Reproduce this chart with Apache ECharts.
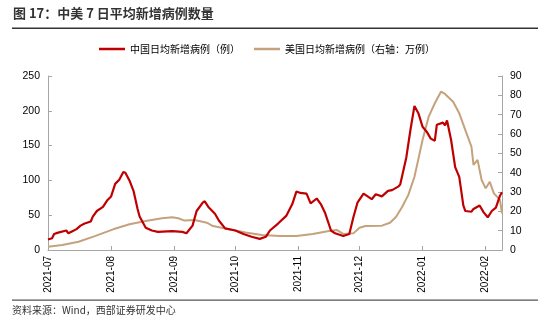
<!DOCTYPE html>
<html>
<head>
<meta charset="utf-8">
<script src="https://cdn.jsdelivr.net/npm/echarts@6/dist/echarts.min.js"></script>
<style>
html,body{margin:0;padding:0;background:#fff;}
#chart{width:550px;height:332px;}
</style>
</head>
<body>
<div id="chart"></div>
<script>
var titleText = '图 17：中美 7 日平均新增病例数量';
var sourceText = '资料来源：Wind，西部证券研发中心';
var seriesNames = ['中国日均新增病例（例）', '美国日均新增病例（右轴：万例）'];

var chinaDates = ['2021-07-01','2021-07-03','2021-07-04','2021-07-06','2021-07-10','2021-07-11','2021-07-13','2021-07-15','2021-07-17','2021-07-19','2021-07-22','2021-07-23','2021-07-25','2021-07-28','2021-07-30','2021-08-01','2021-08-03','2021-08-05','2021-08-07','2021-08-08','2021-08-10','2021-08-12','2021-08-14','2021-08-15','2021-08-18','2021-08-21','2021-08-24','2021-08-31','2021-09-05','2021-09-07','2021-09-10','2021-09-12','2021-09-15','2021-09-16','2021-09-18','2021-09-21','2021-09-23','2021-09-26','2021-10-01','2021-10-05','2021-10-09','2021-10-13','2021-10-16','2021-10-18','2021-10-22','2021-10-26','2021-10-29','2021-10-31','2021-11-02','2021-11-05','2021-11-07','2021-11-10','2021-11-12','2021-11-14','2021-11-17','2021-11-19','2021-11-23','2021-11-26','2021-11-28','2021-11-30','2021-12-03','2021-12-05','2021-12-07','2021-12-09','2021-12-12','2021-12-15','2021-12-17','2021-12-20','2021-12-21','2021-12-24','2021-12-26','2021-12-28','2021-12-30','2022-01-01','2022-01-03','2022-01-05','2022-01-07','2022-01-08','2022-01-11','2022-01-12','2022-01-13','2022-01-15','2022-01-17','2022-01-19','2022-01-21','2022-01-22','2022-01-25','2022-01-26','2022-01-29','2022-01-31','2022-02-02','2022-02-04','2022-02-06','2022-02-08','2022-02-09'];
var chinaValues = [15,17,23,25,28,24,27,30,35,38,41,48,56,62,71,77,95,101,112,111,100,85,59,48,32,28,26,27,26,24,35,56,68,70,61,52,42,31,28,23,19,16,19,28,38,49,66,84,82,81,67,74,66,54,28,24,20,23,47,68,81,77,73,80,77,85,86,91,94,133,172,207,196,177,170,160,157,180,183,179,186,158,119,105,64,56,55,59,64,54,47,56,61,78,83];

var usDates = ['2021-07-01','2021-07-08','2021-07-16','2021-07-24','2021-08-02','2021-08-10','2021-08-18','2021-08-26','2021-08-31','2021-09-03','2021-09-06','2021-09-11','2021-09-17','2021-09-20','2021-09-28','2021-10-06','2021-10-14','2021-10-23','2021-10-31','2021-11-08','2021-11-16','2021-11-20','2021-11-23','2021-11-28','2021-12-01','2021-12-04','2021-12-12','2021-12-16','2021-12-19','2021-12-22','2021-12-25','2021-12-28','2021-12-30','2022-01-01','2022-01-04','2022-01-07','2022-01-10','2022-01-12','2022-01-16','2022-01-19','2022-01-22','2022-01-25','2022-01-26','2022-01-28','2022-01-30','2022-02-01','2022-02-03','2022-02-05','2022-02-08','2022-02-09'];
var usValues = [1.7,2.6,4.3,7.2,10.7,13.3,15,16.4,16.9,16.4,15.2,15.5,14.1,12.4,10.7,9,7.8,7.2,7.2,8.3,9.8,10.3,8.3,8.6,11.5,12.4,12.6,14.1,17.2,22.4,28.5,37.9,47.4,57,69,75.9,81.9,80.7,76.7,70.7,62,53.4,44,46.6,36.2,31.9,35.3,29.3,25.9,19];

var leftTicks = {min: 0, max: 250, interval: 50};
var rightTicks = {min: 0, max: 90, interval: 10};
var xRange = {min: '2021-07-01', max: '2022-02-09'};

function pairs(d, v) { return d.map(function (x, i) { return [x, v[i]]; }); }

var FONT = '"Liberation Sans", Arial, "Noto Sans CJK SC", sans-serif';
var chart = echarts.init(document.getElementById('chart'), null, {renderer: 'canvas'});
var axisCommon = {
  axisLine: {show: true, lineStyle: {color: '#a6a6a6', width: 1}},
  axisTick: {show: true, inside: true, length: 4, lineStyle: {color: '#a6a6a6'}},
  splitLine: {show: false},
  axisLabel: {color: '#000', fontSize: 10.5, fontFamily: FONT, margin: 8}
};
chart.setOption({
  animation: false,
  backgroundColor: '#fff',
  graphic: [
    {type: 'text', left: 13, top: 7, style: {text: titleText, font: 'bold 13px "Noto Sans CJK SC", sans-serif', fill: '#333'}},
    {type: 'rect', shape: {x: 12, y: 27.5, width: 526, height: 1.5}, style: {fill: '#333'}},
    {type: 'rect', shape: {x: 12, y: 299.5, width: 526, height: 1.2}, style: {fill: '#555'}},
    {type: 'text', left: 12, top: 305, style: {text: sourceText, font: '10px "Noto Sans CJK SC", sans-serif', fill: '#333'}}
  ],
  legend: {
    left: 94, top: 39, itemWidth: 26, itemHeight: 2.5, itemGap: 14, icon: 'rect',
    textStyle: {fontSize: 10, color: '#000', fontFamily: '"Noto Sans CJK SC", sans-serif'},
    data: seriesNames
  },
  grid: {left: 48, right: 48, top: 76, bottom: 82, containLabel: false},
  xAxis: Object.assign({}, axisCommon, {
    type: 'time', min: xRange.min, max: xRange.max, splitNumber: 8,
    minInterval: 28 * 86400000,
    axisLabel: {color: '#000', fontSize: 10, fontFamily: FONT, margin: 6, rotate: 90, formatter: '{yyyy}-{MM}', showMinLabel: true}
  }),
  yAxis: [
    Object.assign({}, axisCommon, {type: 'value', min: leftTicks.min, max: leftTicks.max, interval: leftTicks.interval}),
    Object.assign({}, axisCommon, {type: 'value', min: rightTicks.min, max: rightTicks.max, interval: rightTicks.interval, position: 'right'})
  ],
  series: [
    {name: seriesNames[0], type: 'line', yAxisIndex: 0, showSymbol: false, data: pairs(chinaDates, chinaValues), lineStyle: {color: '#c00000', width: 2.2}, itemStyle: {color: '#c00000'}, z: 3},
    {name: seriesNames[1], type: 'line', yAxisIndex: 1, showSymbol: false, data: pairs(usDates, usValues), lineStyle: {color: '#c4a27c', width: 2}, itemStyle: {color: '#c4a27c'}, z: 2}
  ]
});
</script>
</body>
</html>
